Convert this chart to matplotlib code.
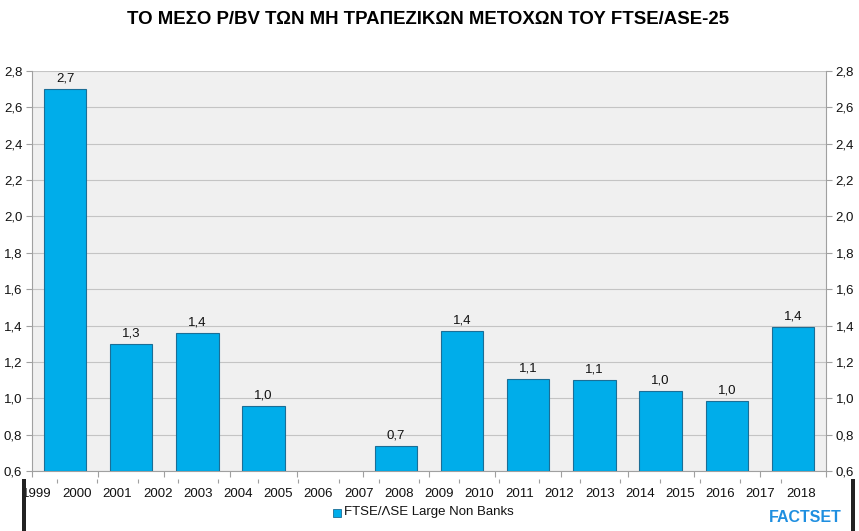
import matplotlib
matplotlib.use("Agg")
import matplotlib.pyplot as plt
from matplotlib.patches import Rectangle
import numpy as np

plt.rcParams['font.family'] = ['Liberation Sans', 'DejaVu Sans']

# ---- data ----
values = [2.70, 1.30, 1.36, 0.96, None, 0.74, 1.37, 1.105, 1.10, 1.04, 0.985, 1.39]
year_labels = [str(y) for y in range(1999, 2019)]
y_ticks = [0.6, 0.8, 1.0, 1.2, 1.4, 1.6, 1.8, 2.0, 2.2, 2.4, 2.6, 2.8]
title = "ΤΟ ΜΕΣΟ P/BV ΤΩΝ ΜΗ ΤΡΑΠΕΖΙΚΩΝ ΜΕΤΟΧΩΝ ΤΟΥ FTSE/ASE-25"
series_name = "FTSE/ΛSE Large Non Banks"

W, H = 859, 531
fig = plt.figure(figsize=(W / 100, H / 100), dpi=100)
fig.patch.set_facecolor('white')
ax = fig.add_axes([32 / W, 1 - 471 / H, (826 - 32) / W, (471 - 71) / H])
ax.set_facecolor('#f0f0f0')

n = len(values)
x = np.arange(n)
bar_color = '#00adea'
edge_color = '#1b6e96'
for xi, v in zip(x, values):
    if v is None:
        continue
    ax.bar(xi, v - 0.6, bottom=0.6, width=0.64, color=bar_color,
           edgecolor=edge_color, linewidth=0.8, zorder=3)
    ax.text(xi, v + 0.025, f"{v:.1f}".replace('.', ','), ha='center', va='bottom',
            fontsize=9.5, color='#111111', zorder=4)

ax.set_xlim(-0.5, n - 0.5)
ax.set_ylim(0.6, 2.8)

# y axis both sides
ax.set_yticks(y_ticks)
ax.set_yticklabels([f"{t:.1f}".replace('.', ',') for t in y_ticks])
ax.tick_params(axis='y', which='major', left=True, right=True, labelleft=True,
               labelright=True, length=4, width=0.8, color='#a0a0a0',
               labelsize=9.5, labelcolor='#111111', pad=3)
ax.yaxis.grid(True, color='#c4c4c4', linewidth=0.8, zorder=0)
ax.set_axisbelow(True)

# x axis: category boundaries (major) and year labels (minor)
ax.set_xticks(np.arange(n + 1) - 0.5)
ax.set_xticklabels([])
ax.tick_params(axis='x', which='major', length=4, width=0.8, color='#a0a0a0')
step = 0.6075
year_pos = -0.424 + step * np.arange(len(year_labels))
ax.set_xticks(year_pos, minor=True)
ax.set_xticklabels(year_labels, minor=True)
ax.tick_params(axis='x', which='minor', length=0, labelsize=9.5,
               labelcolor='#111111', pad=12)

sec = ax.secondary_xaxis('bottom')
sec.set_xticks(year_pos[:-1] + step / 2)
sec.set_xticklabels([])
sec.tick_params(length=3, width=0.8, color='#a0a0a0', direction='out')
sec.spines['bottom'].set_position(('outward', 6))
sec.spines['bottom'].set_visible(False)

for side in ['left', 'right', 'bottom']:
    ax.spines[side].set_color('#a0a0a0')
    ax.spines[side].set_linewidth(0.8)
ax.spines['top'].set_visible(False)

# title
fig.text(428 / W, 1 - 20 / H, title, ha='center', va='center', fontsize=13.4,
         fontweight='bold', color='#000000')

# legend
fig.patches.append(Rectangle((333 / W, 1 - 517 / H), 8 / W, 8 / H,
                             transform=fig.transFigure, facecolor=bar_color,
                             edgecolor=edge_color, linewidth=0.6))
fig.text(344 / W, 1 - 512 / H, series_name, ha='left', va='center', fontsize=9.5,
         color='#111111')

# logo text
fig.text(805 / W, 1 - 518 / H, "FACTSET", ha='center', va='center', fontsize=11.5,
         fontweight='bold', color='#1f8fe0')

# dark side strips
fig.patches.append(Rectangle((22 / W, 0), 4 / W, 52 / H, transform=fig.transFigure,
                             facecolor='#222222', edgecolor='none'))
fig.patches.append(Rectangle((851 / W, 0), 4 / W, 52 / H, transform=fig.transFigure,
                             facecolor='#222222', edgecolor='none'))

fig.savefig("out.png", dpi=100)
